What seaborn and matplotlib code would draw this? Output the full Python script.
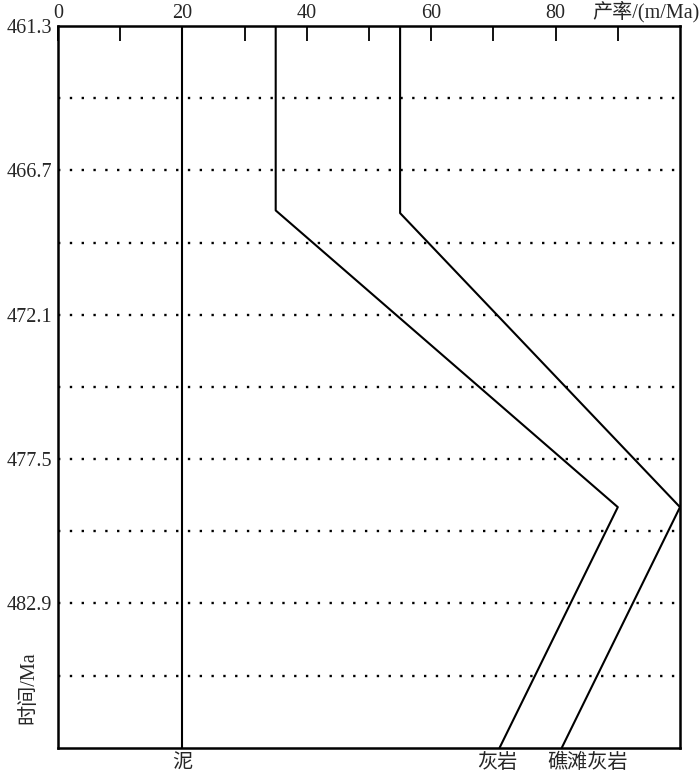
import matplotlib
matplotlib.use("Agg")
import matplotlib.pyplot as plt
import matplotlib.transforms as mtransforms
import seaborn as sns

# -------------------------------
# Data
# -------------------------------
mud_rate = [20, 20]
mud_time = [461.3, 488.3]

limestone_rate = [35, 35, 90, 71]
limestone_time = [461.3, 468.2, 479.3, 488.3]

reef_rate = [55, 55, 100, 81]
reef_time = [461.3, 468.3, 479.3, 488.3]

x_major = [0, 20, 40, 60, 80]
x_minor = [10, 30, 50, 70, 90]
y_labels = [461.3, 466.7, 472.1, 477.5, 482.9]
y_dotted = [464.0, 466.7, 469.4, 472.1, 474.8, 477.5, 480.2, 482.9, 485.6]

line_names = ["泥", "灰岩", "礁滩灰岩"]
name_pos = [20, 70.6, 85.2]

sns.set_theme(style="white")
plt.rcParams["font.family"] = ["Liberation Serif", "Noto Sans CJK SC"]
plt.rcParams["axes.unicode_minus"] = False
fs = 14.5

fig = plt.figure(figsize=(7, 7.75), dpi=100)
ax = fig.add_axes([58 / 700, 1 - 747.7 / 775, 622 / 700, 721.7 / 775])

# dotted time lines
for t in y_dotted:
    ax.axhline(t, color="black", lw=1.7, linestyle=(0, (1, 4.0)), zorder=1)

# production rate curves
for xs, ys in [(mud_rate, mud_time), (limestone_rate, limestone_time), (reef_rate, reef_time)]:
    sns.lineplot(x=xs, y=ys, sort=False, estimator=None, color="black", lw=1.5, ax=ax, zorder=3)

ax.set_xlim(0, 100)
ax.set_ylim(488.3, 461.3)

# x axis on top, inward ticks
ax.xaxis.set_ticks_position("top")
ax.xaxis.set_label_position("top")
ax.set_xticks(x_major + x_minor)
ax.set_xticklabels([str(v) if v in x_major else "" for v in x_major + x_minor])
ax.tick_params(axis="x", direction="in", length=11, width=1.3, color="black",
               labelsize=fs, pad=2, top=True, bottom=False)

ax.set_yticks(y_labels)
ax.set_yticklabels([f"{v:.1f}" for v in y_labels])
ax.tick_params(axis="y", length=0, labelsize=fs, pad=4)

for s in ax.spines.values():
    s.set_color("black")
    s.set_linewidth(1.8)

ax.set_xlabel("")
ax.set_ylabel("")

fig.text(0.999, 1 - 12 / 775, "产率/(m/Ma)", ha="right", va="center", fontsize=fs)
fig.text(29 / 700, 1 - 688 / 775, "时间/Ma", ha="center", va="center", rotation=90, fontsize=fs)

# lithology names under the curves
trans = mtransforms.blended_transform_factory(ax.transData, fig.transFigure)
for name, xpos in zip(line_names, name_pos):
    ax.text(xpos, 1 - 763 / 775, name, transform=trans, ha="center", va="center", fontsize=fs)

plt.savefig("out.png", dpi=100)
